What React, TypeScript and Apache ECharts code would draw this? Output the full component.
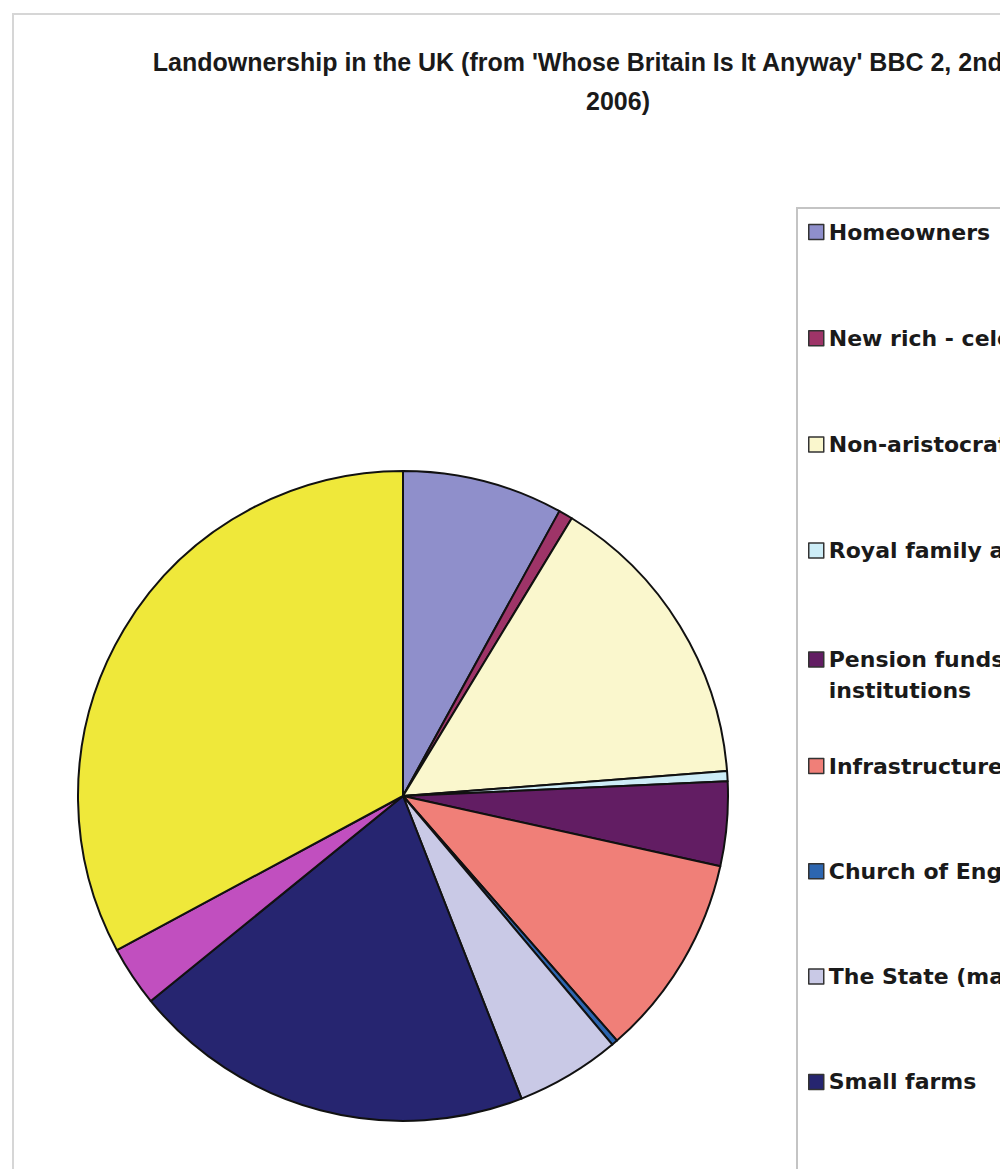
import React, { useEffect, useRef } from "react";
import * as echarts from "echarts";

const TITLE_LINE_1 = "Landownership in the UK (from 'Whose Britain Is It Anyway' BBC 2, 2nd March";
const TITLE_LINE_2 = "2006)";

const categories = [
  "Homeowners",
  "New rich - celebrities etc.",
  "Non-aristocratic gentry",
  "Royal family and Crown",
  "Pension funds and other institutions",
  "Infrastructure",
  "Church of England",
  "The State (mainly MoD)",
  "Small farms",
  "Conservation bodies",
  "Aristocracy",
];

// percentage of land
const shares = [8.0, 0.7, 15.1, 0.5, 4.2, 10.1, 0.3, 5.2, 20.1, 3.0, 32.9];

const colors = [
  "#8F8FCB",
  "#9E3468",
  "#FAF7CD",
  "#CDEDF7",
  "#621D63",
  "#F07F78",
  "#2D66B0",
  "#C9C9E6",
  "#262570",
  "#C14FBF",
  "#EFE83A",
];

const legendA = categories.slice(0, 4);
const legendB = categories.slice(4, 5);
const legendC = categories.slice(5);

export default function App() {
  const ref = useRef<HTMLDivElement>(null);

  useEffect(() => {
    if (!ref.current) return;
    const chart = echarts.init(ref.current, undefined, { renderer: "svg" });
    const font = "'DejaVu Sans', Verdana, sans-serif";
    const legendBase = {
      orient: "vertical" as const,
      left: 808,
      padding: 0,
      icon: "rect",
      itemWidth: 15,
      itemHeight: 15,
      selectedMode: false,
      itemStyle: { borderColor: "#333", borderWidth: 1.5 },
    };
    chart.setOption({
      animation: false,
      backgroundColor: "#ffffff",
      title: {
        text: TITLE_LINE_1 + "\n" + TITLE_LINE_2,
        left: "center",
        top: 37,
        textStyle: {
          fontFamily: "'Liberation Sans', Arial, sans-serif",
          fontWeight: "bold",
          fontSize: 25,
          lineHeight: 39,
          color: "#1a1a1a",
        },
      },
      graphic: [
        {
          type: "rect",
          z: -10,
          shape: { x: 13, y: 14, width: 1210, height: 1400 },
          style: { fill: "#ffffff", stroke: "#d6d6d6", lineWidth: 2 },
        },
        {
          type: "rect",
          z: -9,
          shape: { x: 797, y: 208, width: 420, height: 1200 },
          style: { fill: "#ffffff", stroke: "#c4c4c4", lineWidth: 2 },
        },
      ],
      legend: [
        {
          ...legendBase,
          top: 219,
          itemGap: 80.2,
          data: legendA,
          textStyle: {
            fontFamily: font,
            fontWeight: "bold",
            fontSize: 22,
            lineHeight: 26,
            color: "#1a1a1a",
          },
        },
        {
          ...legendBase,
          top: 613,
          data: legendB,
          formatter: () => "\nPension funds and other\ninstitutions",
          textStyle: {
            fontFamily: font,
            fontWeight: "bold",
            fontSize: 22,
            lineHeight: 31,
            color: "#1a1a1a",
          },
        },
        {
          ...legendBase,
          top: 753,
          itemGap: 79.3,
          data: legendC,
          textStyle: {
            fontFamily: font,
            fontWeight: "bold",
            fontSize: 22,
            lineHeight: 26,
            color: "#1a1a1a",
          },
        },
      ],
      series: [
        {
          type: "pie",
          center: [403, 796],
          radius: 325,
          startAngle: 90,
          clockwise: true,
          label: { show: false },
          labelLine: { show: false },
          emphasis: { disabled: true },
          itemStyle: { borderColor: "#111", borderWidth: 2 },
          data: categories.map((name, i) => ({
            name,
            value: shares[i],
            itemStyle: { color: colors[i] },
          })),
        },
      ],
    });
    return () => chart.dispose();
  }, []);

  return (
    <div
      style={{
        position: "absolute",
        left: 0,
        top: 0,
        width: 1000,
        height: 1169,
        overflow: "hidden",
        background: "#fff",
      }}
    >
      <div ref={ref} style={{ width: 1236, height: 1169 }} />
    </div>
  );
}
